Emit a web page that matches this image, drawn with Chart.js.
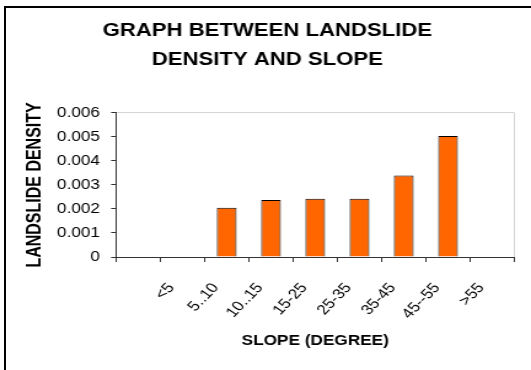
<!DOCTYPE html>
<html>
<head>
<meta charset="utf-8">
<script src="https://cdn.jsdelivr.net/npm/chart.js@4.4.0/dist/chart.umd.min.js"></script>
<style>
  html, body { margin: 0; padding: 0; background: #fff; }
  /* cadre noir (gauche + haut) comme la feuille Excel */
  #frame { position: absolute; left: 4px; top: 6px; width: 600px; height: 400px;
           border-left: 2px solid #000; border-top: 2px solid #000; }
  /* le graphe d'origine est étiré horizontalement (~1.23x) */
  #chart { position: absolute; left: 0; top: 0; width: 531px !important; height: 370px !important; }
</style>
</head>
<body>
<div id="frame"></div>
<canvas id="chart" width="432" height="370"></canvas>
<script>
/* Données */
const slopeClasses = ['', '<5', '5..10', '10..15', '15-25', '25-35', '35-45', '45--55', '>55'];
const landslideDensity = [0, 0, 0.00205, 0.00237, 0.00243, 0.00243, 0.00339, 0.00504, 0];
const densityTicks = [0, 0.001, 0.002, 0.003, 0.004, 0.005, 0.006];

const FONT = '"Liberation Sans", Arial, sans-serif';
const AXIS = '#333';

const ctx = document.getElementById('chart').getContext('2d');

new Chart(ctx, {
  type: 'bar',
  data: {
    labels: slopeClasses,
    datasets: [{
      data: landslideDensity,
      backgroundColor: '#FF6600',
      borderColor: '#000',
      borderWidth: c => (c.raw ? 1 : 0),
      barPercentage: 0.445,
      categoryPercentage: 1
    }]
  },
  options: {
    responsive: false,
    animation: false,
    devicePixelRatio: 1,
    // padding gauche = décale le titre pour le centrer comme l'original
    layout: { padding: { left: 11, right: 8, top: 0, bottom: 0 } },
    plugins: {
      legend: { display: false },
      tooltip: { enabled: false },
      title: {
        display: true,
        text: ['GRAPH BETWEEN LANDSLIDE', 'DENSITY AND SLOPE'],
        color: '#000',
        font: { family: FONT, size: 18, weight: 'bold', lineHeight: 1.58 },
        padding: { top: 17, bottom: 39 }
      }
    },
    scales: {
      x: {
        afterFit: s => { s.height = 113; },
        border: { color: AXIS, width: 1 },
        grid: {
          offset: true,
          color: c => (c.tick ? 'rgba(0,0,0,0)' : '#d4d4d4'),
          tickColor: AXIS,
          tickLength: 5
        },
        ticks: {
          autoSkip: false,
          minRotation: 51,
          maxRotation: 51,
          color: '#000',
          padding: 18,
          labelOffset: -9,
          font: { family: FONT, size: 14 }
        },
        title: {
          display: true,
          text: 'SLOPE (DEGREE)',
          color: '#000',
          font: { family: FONT, size: 14, weight: 'bold' },
          padding: { top: 0, bottom: 20.6 }
        }
      },
      y: {
        min: 0,
        max: 0.006,
        afterFit: s => { s.width = 83.4; },
        afterBuildTicks: s => { s.ticks = densityTicks.map(v => ({ value: v })); },
        border: { color: AXIS, width: 1 },
        grid: {
          color: c => (c.tick && c.tick.value === 0.006 ? '#d4d4d4' : 'rgba(0,0,0,0)'),
          tickColor: AXIS,
          tickLength: 4
        },
        ticks: {
          color: '#000',
          padding: 9,
          font: { family: FONT, size: 14 },
          callback: v => (v === 0 ? '0' : v.toFixed(3))
        },
        title: {
          display: true,
          text: 'LANDSLIDE DENSITY',
          color: '#000',
          font: { family: FONT, size: 16, weight: 'bold' },
          padding: { top: 8, bottom: 0 }
        }
      }
    }
  }
});
</script>
</body>
</html>
